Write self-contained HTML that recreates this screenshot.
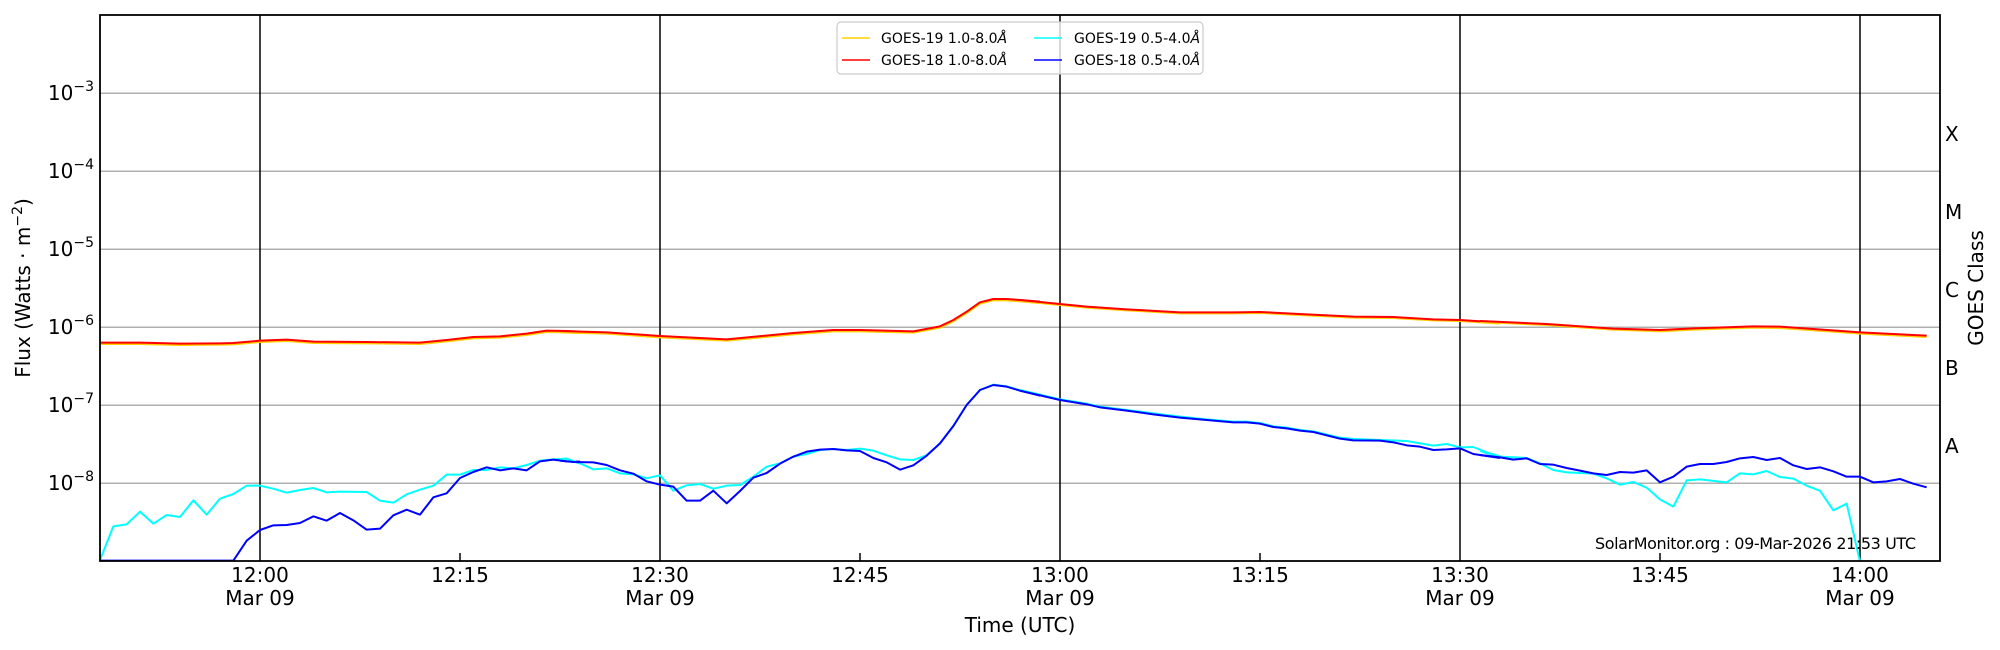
<!DOCTYPE html>
<html><head><meta charset="utf-8"><style>
html,body{margin:0;padding:0;background:#fff;}
svg{display:block;font-family:"DejaVu Sans","Liberation Sans",sans-serif;}
.d{fill:none;stroke-width:2;vector-effect:non-scaling-stroke;stroke-linejoin:round;}
</style></head><body>
<svg width="2000" height="650" viewBox="0 0 2000 650" xmlns="http://www.w3.org/2000/svg">
<rect width="2000" height="650" fill="#fff"/>
<defs><clipPath id="c"><rect x="100" y="15" width="1840" height="546"/></clipPath></defs>
<!-- grid -->
<g stroke="#b0b0b0" stroke-width="1.5">
<line x1="100" x2="1940" y1="93.3" y2="93.3"/><line x1="100" x2="1940" y1="171.3" y2="171.3"/>
<line x1="100" x2="1940" y1="249.3" y2="249.3"/><line x1="100" x2="1940" y1="327.3" y2="327.3"/>
<line x1="100" x2="1940" y1="405.3" y2="405.3"/><line x1="100" x2="1940" y1="483.3" y2="483.3"/>
</g>
<g stroke="#000" stroke-width="1.5">
<line x1="260" x2="260" y1="15" y2="561"/><line x1="660" x2="660" y1="15" y2="561"/>
<line x1="1060" x2="1060" y1="15" y2="561"/><line x1="1460" x2="1460" y1="15" y2="561"/>
<line x1="1860" x2="1860" y1="15" y2="561"/>
<line x1="460" x2="460" y1="561" y2="553"/><line x1="860" x2="860" y1="561" y2="553"/>
<line x1="1260" x2="1260" y1="561" y2="553"/><line x1="1660" x2="1660" y1="561" y2="553"/>
</g>
<g id="ticks" stroke="#000" stroke-width="1.2"></g>
<!-- data -->
<g clip-path="url(#c)">
<g transform="translate(100,300) scale(0.3333333)">
<polyline class="d" stroke="#ffd000" points="0,132 120,132 240,135 360,134 400,133 480,126 560,123 640,129 800,130 960,132 1040,124 1120,115 1200,113 1280,105 1340,96 1400,97 1440,99"/>
<polyline class="d" stroke="#ff0000" points="0,128 120,128 240,131 360,130 400,129 480,122 560,119 640,125 800,126 960,128 1040,120 1120,111 1200,109 1280,101 1340,92 1400,93 1440,95"/>
<polyline class="d" stroke="#00ffff" points="0,780 40,679 80,673 120,635 160,671 200,645 240,651 280,601 320,644 360,596 400,582 440,557 480,557 520,566 560,578 600,570 640,564 680,577 720,575 800,576 840,602 880,608 920,583 960,569 1000,557 1040,524 1080,524 1120,510 1160,510 1200,502 1240,505 1280,495 1320,482 1360,478 1400,476 1440,491"/>
<polyline class="d" stroke="#0000ff" points="0,782 400,782 440,722 480,690 520,676 560,675 600,669 640,649 680,662 720,639 760,661 800,689 840,686 880,646 920,629 960,644 1000,592 1040,580 1080,534 1120,516 1160,502 1200,511 1240,505 1280,511 1320,484 1360,479 1400,484 1440,485"/>
</g>
<g transform="translate(560,300) scale(0.3333333)">
<polyline class="d" stroke="#ffd000" points="0,97 140,101 300,112 500,122 700,103 820,94 900,94 1060,98 1140,83 1180,64 1220,39 1260,11 1300,1 1340,1 1380,4 1440,9"/>
<polyline class="d" stroke="#ff0000" points="0,93 140,97 300,108 500,118 700,99 820,90 900,90 1060,94 1140,79 1180,60 1220,35 1260,7 1300,-3 1340,-3 1380,0 1440,5"/>
<polyline class="d" stroke="#00ffff" points="0,478 20,476 60,490 100,508 140,505 180,520 220,523 260,535 300,526 340,572 380,556 420,552 460,566 500,557 540,555 580,530 620,500 660,490 700,470 740,462 780,450 820,447 860,450 900,446 940,452 980,466 1020,478 1060,480 1100,466 1140,430 1180,378 1220,315 1260,270 1300,254 1340,259 1380,271 1440,285"/>
<polyline class="d" stroke="#0000ff" points="0,482 40,486 100,487 140,495 180,511 220,521 260,544 300,554 340,560 380,602 420,602 460,572 500,610 540,573 580,533 620,519 660,491 700,470 740,455 780,449 820,447 860,451 900,453 940,474 980,487 1020,509 1060,496 1100,467 1140,430 1180,378 1220,315 1260,270 1300,255 1340,260 1380,272 1440,287"/>
</g>
<g transform="translate(1020,300) scale(0.3333333)">
<polyline class="d" stroke="#ffd000" points="0,3 120,15 200,23 320,31 480,40 640,40 720,39 860,46 1000,53 1120,54 1240,61 1320,63 1440,71"/>
<polyline class="d" stroke="#ff0000" points="0,0 120,12 200,20 320,28 480,37 640,37 720,36 860,43 1000,50 1120,51 1240,58 1320,60 1440,68"/>
<polyline class="d" stroke="#00ffff" points="0,270 120,298 200,311 240,320 320,330 400,340 480,350 560,358 640,365 680,365 720,369 760,379 800,383 840,390 880,394 960,413 1000,417 1160,423 1240,437 1280,432 1320,442 1360,441 1400,457 1440,469"/>
<polyline class="d" stroke="#0000ff" points="0,272 120,300 200,313 240,322 320,332 400,343 480,353 560,360 640,367 680,367 720,371 760,381 800,385 840,392 880,396 960,416 1000,421 1080,422 1120,427 1160,436 1200,440 1240,450 1280,448 1320,445 1360,462 1400,468 1440,474"/>
</g>
<g transform="translate(1480,300) scale(0.3333333)">
<polyline class="d" stroke="#ffd000" points="0,66 200,75 400,89 540,94 640,89 820,83 900,84 1100,98 1140,101 1340,111"/>
<polyline class="d" stroke="#ff0000" points="0,63 200,72 400,86 540,90 640,85 820,79 900,80 1100,94 1140,97 1340,107"/>
<polyline class="d" stroke="#00ffff" points="0,452 20,460 60,470 140,474 180,490 220,510 260,517 340,521 380,535 420,554 460,546 500,563 540,598 580,620 620,541 660,538 740,547 780,520 820,523 860,513 900,531 940,536 980,557 1020,572 1060,631 1100,611 1140,785 1340,785"/>
<polyline class="d" stroke="#0000ff" points="0,465 60,472 100,479 140,475 180,492 220,494 260,504 300,512 340,520 380,525 420,516 460,518 500,511 540,547 580,530 620,500 660,492 700,492 740,486 780,475 820,471 860,480 900,474 940,496 980,507 1020,502 1060,514 1100,530 1140,530 1180,547 1220,544 1260,537 1300,551 1340,562"/>
</g>
</g>
<rect x="100" y="15" width="1840" height="546" fill="none" stroke="#000" stroke-width="1.8"/>
<!-- y labels -->
<g font-size="20" fill="#000" text-anchor="end">
<text x="94" y="100">10<tspan font-size="14" dy="-9">−3</tspan></text>
<text x="94" y="178">10<tspan font-size="14" dy="-9">−4</tspan></text>
<text x="94" y="256">10<tspan font-size="14" dy="-9">−5</tspan></text>
<text x="94" y="334">10<tspan font-size="14" dy="-9">−6</tspan></text>
<text x="94" y="412">10<tspan font-size="14" dy="-9">−7</tspan></text>
<text x="94" y="490">10<tspan font-size="14" dy="-9">−8</tspan></text>
</g>
<g font-size="20" fill="#000">
<text x="1945" y="141">X</text><text x="1945" y="219">M</text><text x="1945" y="297">C</text>
<text x="1945" y="375">B</text><text x="1945" y="453">A</text>
</g>
<text transform="translate(1983,288) rotate(-90)" font-size="20" text-anchor="middle">GOES Class</text>
<text transform="translate(30,288) rotate(-90)" font-size="20" text-anchor="middle">Flux (Watts · m<tspan font-size="14" dy="-8">−2</tspan><tspan dy="8">)</tspan></text>
<!-- x labels -->
<g font-size="20" text-anchor="middle" fill="#000">
<text x="260" y="582">12:00</text><text x="260" y="605">Mar 09</text>
<text x="460" y="582">12:15</text>
<text x="660" y="582">12:30</text><text x="660" y="605">Mar 09</text>
<text x="860" y="582">12:45</text>
<text x="1060" y="582">13:00</text><text x="1060" y="605">Mar 09</text>
<text x="1260" y="582">13:15</text>
<text x="1460" y="582">13:30</text><text x="1460" y="605">Mar 09</text>
<text x="1660" y="582">13:45</text>
<text x="1860" y="582">14:00</text><text x="1860" y="605">Mar 09</text>
<text x="1020" y="632">Time (UTC)</text>
</g>
<text x="1595" y="549" font-size="16" textLength="321">SolarMonitor.org : 09-Mar-2026 21:53 UTC</text>
<!-- legend -->
<rect x="837" y="22" width="366" height="52" rx="4" fill="#fff" fill-opacity="0.8" stroke="#cccccc" stroke-width="1.2"/>
<g stroke-width="1.5">
<line x1="842" x2="870" y1="38" y2="38" stroke="#ffd000"/>
<line x1="842" x2="870" y1="60" y2="60" stroke="#ff0000"/>
<line x1="1034" x2="1062" y1="38" y2="38" stroke="#00ffff"/>
<line x1="1034" x2="1062" y1="60" y2="60" stroke="#0000ff"/>
</g>
<g font-size="14" fill="#000">
<text x="881" y="43">GOES-19 1.0-8.0<tspan font-style="italic">Å</tspan></text>
<text x="881" y="65">GOES-18 1.0-8.0<tspan font-style="italic">Å</tspan></text>
<text x="1074" y="43">GOES-19 0.5-4.0<tspan font-style="italic">Å</tspan></text>
<text x="1074" y="65">GOES-18 0.5-4.0<tspan font-style="italic">Å</tspan></text>
</g>
<script>
(function(){
var g=document.getElementById('ticks'),s='';
for(var d=0;d<7;d++){
 var base=561-78*d;
 for(var k=1;k<10;k++){
  var y=base-78*Math.log10(k);
  var L=(k==1)?10:7;
  if(k==1&&d==0)continue;
  s+='<line x1="100" x2="'+(100+L)+'" y1="'+y+'" y2="'+y+'"/>';
  s+='<line x1="1940" x2="'+(1940-L)+'" y1="'+y+'" y2="'+y+'"/>';
 }
}
g.innerHTML=s;
})();
</script>
</svg>
</body></html>
